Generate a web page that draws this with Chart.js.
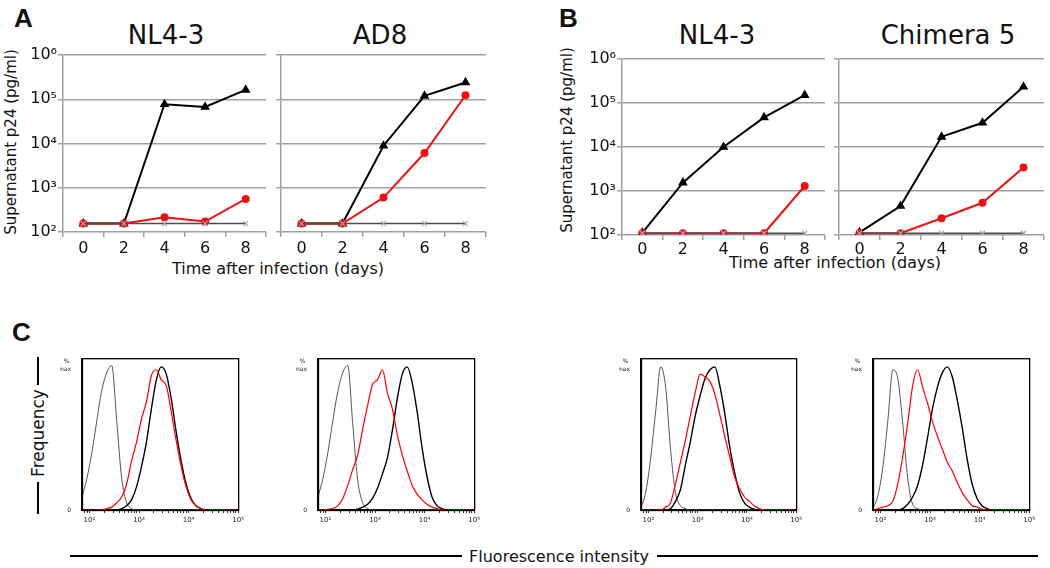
<!DOCTYPE html>
<html>
<head>
<meta charset="utf-8">
<script src="https://cdn.jsdelivr.net/npm/chart.js@4.4.1/dist/chart.umd.min.js"></script>
<style>
  body { margin: 0; background: #fff; }
  #fig { position: relative; width: 1050px; height: 568px; overflow: hidden; font-family: "DejaVu Sans", Verdana, sans-serif; color: #111; }
  #fig canvas { position: absolute; }
  .t { position: absolute; white-space: nowrap; transform: translate(-50%, -50%); line-height: 1; }
  .rot { transform: translate(-50%, -50%) rotate(-90deg); }
  .panel { position: absolute; font-family: "Liberation Sans", Arial, sans-serif; font-weight: bold; font-size: 26px; line-height: 1; }
  .rule { position: absolute; background: #000; }
</style>
</head>
<body>
<div id="fig">
  <div class="panel" style="left:14px;top:5px">A</div>
  <div class="panel" style="left:559px;top:5px">B</div>
  <div class="panel" style="left:12px;top:319px">C</div>

  <div class="t" style="left:166px;top:35px;font-size:26px">NL4-3</div>
  <div class="t" style="left:380px;top:35px;font-size:26px">AD8</div>
  <div class="t" style="left:717px;top:35px;font-size:26px">NL4-3</div>
  <div class="t" style="left:948px;top:35px;font-size:26px">Chimera 5</div>

  <div class="t rot" style="left:11px;top:142px;font-size:15px">Supernatant p24 (pg/ml)</div>
  <div class="t rot" style="left:567px;top:140px;font-size:15px">Supernatant p24 (pg/ml)</div>
  <div class="t" style="left:278px;top:269px;font-size:16px">Time after infection (days)</div>
  <div class="t" style="left:835px;top:263px;font-size:16px">Time after infection (days)</div>

  <div class="rule" style="left:37px;top:357px;width:2px;height:28px"></div>
  <div class="t rot" style="left:38px;top:433px;font-size:17px">Frequency</div>
  <div class="rule" style="left:37px;top:482px;width:2px;height:32px"></div>

  <div class="rule" style="left:70px;top:555px;width:392px;height:2px"></div>
  <div class="t" style="left:559px;top:557px;font-size:16px">Fluorescence intensity</div>
  <div class="rule" style="left:657px;top:555px;width:381px;height:2px"></div>
</div>
<script>
const fig = document.getElementById('fig');
const FONT = '"DejaVu Sans", Verdana, sans-serif';
const gridGray = '#a0a0a0';
const sup = { 2: '\u00b2', 3: '\u00b3', 4: '\u2074', 5: '\u2075', 6: '\u2076' };

// p24 time course (pg/ml)
const days = ['0', '2', '4', '6', '8'];
const yTicks = [1e2, 1e3, 1e4, 1e5, 1e6];

const aNl43Black = [155, 155, 77000, 67000, 163000];
const aNl43Red = [155, 155, 215, 172, 560];
const aNl43Gray = [155, 155, 155, 155, 155];

const aAd8Black = [155, 155, 8900, 119000, 240000];
const aAd8Red = [155, 155, 600, 6100, 123000];
const aAd8Gray = [155, 155, 155, 155, 155];

const bNl43Black = [112, 1550, 10000, 47000, 151000];
const bNl43Red = [110, 110, 110, 110, 1300];
const bNl43Gray = [110, 110, 110, 110, 110];

const bChimBlack = [115, 455, 17000, 35500, 234000];
const bChimRed = [110, 110, 240, 540, 3400];
const bChimGray = [110, 110, 110, 110, 110];

// flow histograms: x = log10 fluorescence, y = % of max
const histX = [1.85, 1.95, 2.05, 2.15, 2.25, 2.35, 2.45, 2.55, 2.65, 2.75, 2.85, 2.95, 3.05, 3.15, 3.25, 3.35,
               3.45, 3.55, 3.65, 3.75, 3.85, 3.95, 4.05, 4.15, 4.25, 4.35, 4.45, 4.55, 4.65, 4.75, 4.85, 4.95];

const h1Gray = [9, 22, 40, 62, 83, 95, 100, 62, 22, 5, 1, 0, 0, 0, 0, 0, 0, 0, 0, 0, 0, 0, 0, 0, 0, 0, 0, 0, 0, 0, 0, 0];
const h1Red = [0, 0, 0, 0, 0, 1, 2, 5, 9, 18, 34, 47, 63, 75, 93, 97, 90, 86, 68, 48, 30, 16, 7, 3, 1, 0, 0, 0, 0, 0, 0, 0];
const h1Black = [0, 0, 0, 0, 0, 0, 0, 0, 1, 3, 7, 16, 30, 47, 70, 90, 99, 94, 77, 54, 34, 18, 8, 3, 1, 0, 0, 0, 0, 0, 0, 0];

const h2Gray = [9, 22, 40, 62, 82, 95, 100, 60, 21, 5, 1, 0, 0, 0, 0, 0, 0, 0, 0, 0, 0, 0, 0, 0, 0, 0, 0, 0, 0, 0, 0, 0];
const h2Red = [0, 0, 0.5, 1, 3, 8, 17, 28, 38, 56, 72, 87, 90, 97, 81, 70, 52, 38, 27, 17, 11, 7, 4, 2, 1, 0, 0, 0, 0, 0, 0, 0];
const h2Black = [0, 0, 0, 0, 0, 0, 0, 0, 0.5, 2, 4, 8, 15, 25, 36, 55, 77, 94, 99, 88, 68, 43, 23, 9, 3, 1, 0, 0, 0, 0, 0, 0];

const h3Gray = [1, 13, 37, 69, 99, 85, 42, 12, 3, 1, 0, 0, 0, 0, 0, 0, 0, 0, 0, 0, 0, 0, 0, 0, 0, 0, 0, 0, 0, 0, 0, 0];
const h3Red = [0, 0, 0, 0, 0, 2, 5, 18, 33, 48, 65, 81, 94, 92, 89, 80, 66, 51, 37, 23, 15, 9, 6, 3, 1, 0, 0, 0, 0, 0, 0, 0];
const h3Black = [0, 0, 0, 0, 0, 0, 1, 6, 14, 31, 47, 65, 79, 91, 97, 99, 86, 67, 44, 26, 12, 5, 2, 0.5, 0, 0, 0, 0, 0, 0, 0, 0];

const h4Gray = [1, 10, 30, 62, 97, 91, 60, 22, 4, 1, 0, 0, 0, 0, 0, 0, 0, 0, 0, 0, 0, 0, 0, 0, 0, 0, 0, 0, 0, 0, 0, 0];
const h4Red = [0, 1, 2, 3, 6, 18, 37, 60, 86, 97, 85, 74, 61, 51, 42, 33, 27, 19, 12, 7, 3, 2, 0.5, 0, 0, 0, 0, 0, 0, 0, 0, 0];
const h4Black = [0, 0, 0, 0, 0, 0, 1, 4, 9, 17, 31, 50, 70, 85, 95, 99, 92, 76, 57, 35, 18, 8, 3, 1, 0, 0, 0, 0, 0, 0, 0, 0];

function addCanvas(area, m) {
    const cv = document.createElement('canvas');
    cv.width = area.r - area.l + m.l + m.r;
    cv.height = area.b - area.t + m.t + m.b;
    cv.style.left = (area.l - m.l) + 'px';
    cv.style.top = (area.t - m.t) + 'px';
    fig.appendChild(cv);
    return cv;
}

function lineChart(area, yLabels, gray, red, black, labelPad) {
    const m = { l: yLabels ? 60 : 8, t: 14, r: 4, b: 28 };
    const cv = addCanvas(area, m);
    new Chart(cv, {
        type: 'line',
        data: {
            labels: days,
            datasets: [
                { data: gray, borderColor: '#4d4d4d', borderWidth: 1.5, pointStyle: 'crossRot', pointRadius: 3.5,
                  pointBorderColor: '#a8a8a8', pointBorderWidth: 1.2, pointBackgroundColor: 'rgba(0,0,0,0)' },
                { data: red, borderColor: '#f01010', borderWidth: 2, pointStyle: 'circle', pointRadius: 3,
                  pointBackgroundColor: '#f01010', pointBorderColor: '#f01010' },
                { data: black, borderColor: '#000', borderWidth: 2, pointStyle: 'triangle', pointRadius: 3.6,
                  pointBackgroundColor: '#000', pointBorderColor: '#000' }
            ]
        },
        options: {
            responsive: false, animation: false, events: [], devicePixelRatio: 1,
            layout: { padding: { left: 0, top: m.t, right: m.r, bottom: 0 } },
            plugins: { legend: { display: false }, tooltip: { enabled: false } },
            scales: {
                x: {
                    type: 'category', offset: true,
                    afterFit: s => { s.height = m.b; },
                    grid: { offset: true, drawOnChartArea: false, tickLength: 5, color: gridGray, lineWidth: 1.5 },
                    border: { display: false },
                    ticks: { font: { size: 16, family: FONT }, color: '#111', padding: labelPad, maxRotation: 0, autoSkip: false }
                },
                y: {
                    type: 'logarithmic', min: 100, max: 1e6,
                    afterBuildTicks: s => { s.ticks = yTicks.map(v => ({ value: v })); },
                    afterFit: s => { s.width = m.l; },
                    grid: { color: gridGray, lineWidth: 1.5, tickLength: 5 },
                    border: { color: gridGray, width: 1.5 },
                    ticks: {
                        display: yLabels, padding: 1, autoSkip: false,
                        font: { size: 16, family: FONT }, color: '#111',
                        callback: v => '10' + sup[Math.round(Math.log10(v))]
                    }
                }
            }
        }
    });
}

const framePlugin = {
    id: 'frame',
    afterDraw(chart) {
        const { ctx, chartArea: a } = chart;
        ctx.save();
        ctx.strokeStyle = '#000';
        ctx.lineWidth = 1.3;
        ctx.strokeRect(a.left + 0.5, a.top + 0.5, a.right - a.left, a.bottom - a.top);
        ctx.restore();
    }
};

function histChart(area, gray, red, black) {
    const m = { l: 22, t: 6, r: 8, b: 18 };
    const cv = addCanvas(area, m);
    const pts = arr => arr.map((v, i) => ({ x: histX[i], y: v }));
    new Chart(cv, {
        type: 'line',
        data: {
            datasets: [
                { data: pts(red), borderColor: '#ff0000', borderWidth: 1.2, pointRadius: 0, cubicInterpolationMode: 'monotone' },
                { data: pts(black), borderColor: '#000', borderWidth: 1.4, pointRadius: 0, cubicInterpolationMode: 'monotone' },
                { data: pts(gray), borderColor: '#555', borderWidth: 1, pointRadius: 0, cubicInterpolationMode: 'monotone' }
            ]
        },
        options: {
            responsive: false, animation: false, events: [], devicePixelRatio: 1,
            layout: { padding: { left: 0, top: m.t, right: m.r, bottom: 0 } },
            plugins: { legend: { display: false }, tooltip: { enabled: false } },
            scales: {
                x: {
                    type: 'linear', min: 1.85, max: 5,
                    afterBuildTicks: s => {
                        const t = [];
                        for (let n = 1; n <= 4; n++) {
                            for (let k = 1; k <= 9; k++) {
                                const v = n + Math.log10(k);
                                if (v >= 1.85) t.push({ value: v });
                            }
                        }
                        t.push({ value: 5 });
                        s.ticks = t;
                    },
                    afterFit: s => { s.height = m.b; },
                    grid: { drawOnChartArea: false, tickLength: 3, color: '#000', lineWidth: 0.8 },
                    border: { color: '#000', width: 1.3 },
                    ticks: {
                        font: { size: 7, family: FONT }, color: '#222', padding: 3, maxRotation: 0, autoSkip: false,
                        callback: v => Math.abs(v - Math.round(v)) < 1e-6 ? '10' + sup[Math.round(v)] : ''
                    }
                },
                y: {
                    min: 0, max: 105,
                    afterBuildTicks: s => { s.ticks = [{ value: 0 }, { value: 100 }]; },
                    afterFit: s => { s.width = m.l; },
                    grid: { display: false },
                    border: { color: '#000', width: 1.3 },
                    ticks: {
                        font: { size: 6, family: FONT }, color: '#222', padding: 3, autoSkip: false,
                        callback: v => v === 100 ? ['% ', 'max'] : '0'
                    }
                }
            }
        },
        plugins: [framePlugin]
    });
}

lineChart({ l: 63, r: 268, t: 55, b: 232 }, true, aNl43Gray, aNl43Red, aNl43Black, 2);
lineChart({ l: 281, r: 488, t: 55, b: 232 }, false, aAd8Gray, aAd8Red, aAd8Black, 2);
lineChart({ l: 622, r: 827, t: 59, b: 235 }, true, bNl43Gray, bNl43Red, bNl43Black, 0);
lineChart({ l: 839, r: 1046, t: 59, b: 235 }, false, bChimGray, bChimRed, bChimBlack, 0);

histChart({ l: 82, r: 239, t: 354, b: 510 }, h1Gray, h1Red, h1Black);
histChart({ l: 318, r: 475, t: 354, b: 510 }, h2Gray, h2Red, h2Black);
histChart({ l: 641, r: 797, t: 354, b: 510 }, h3Gray, h3Red, h3Black);
histChart({ l: 873, r: 1030, t: 354, b: 510 }, h4Gray, h4Red, h4Black);
</script>
</body>
</html>
